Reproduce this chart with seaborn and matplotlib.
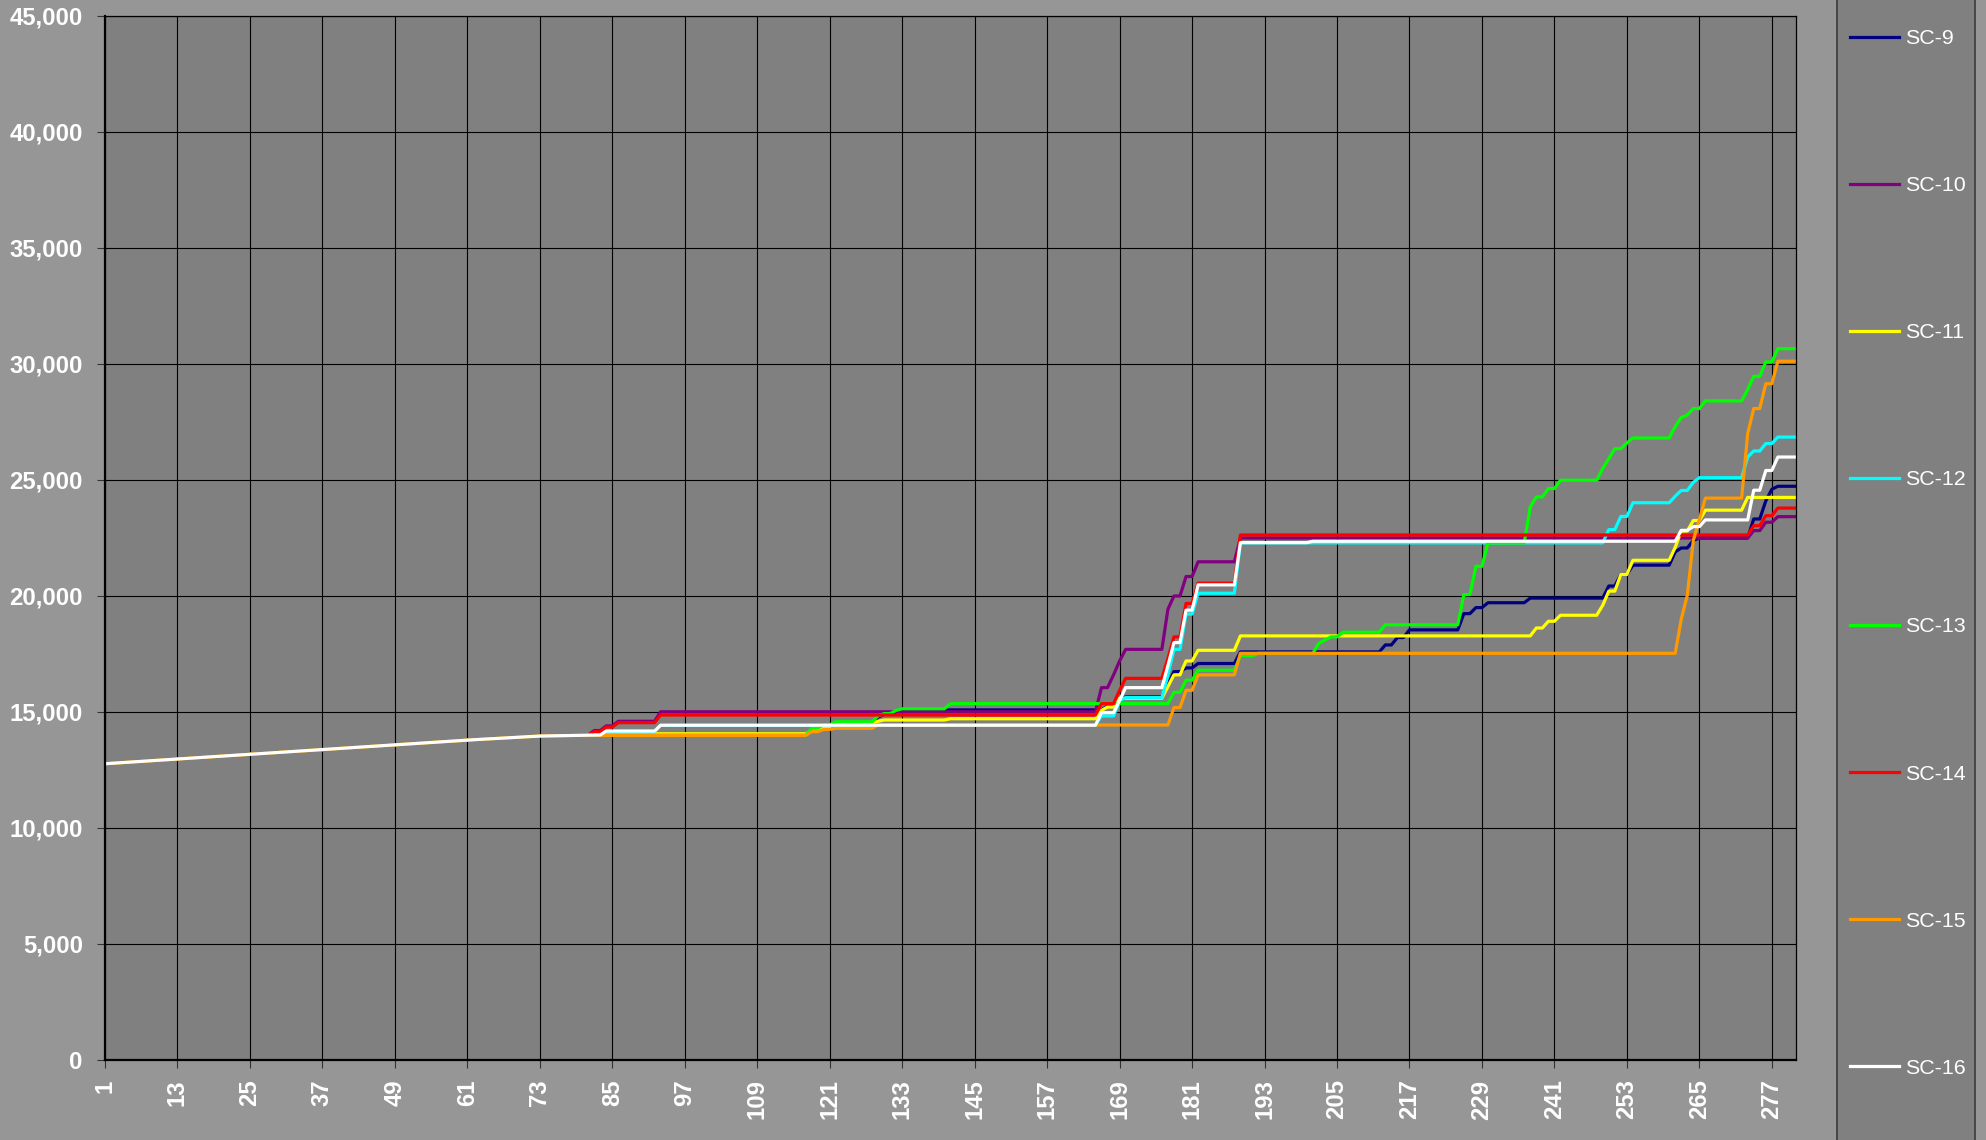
import numpy as np
import pandas as pd
import matplotlib
matplotlib.use("Agg")
import matplotlib.pyplot as plt
from matplotlib.patches import Rectangle
from matplotlib.lines import Line2D
from matplotlib.ticker import FuncFormatter
import seaborn as sns

# ---------------- data ----------------
n_points = 281

# shared opening stretch, x = 1 .. 83
base_ramp = [12770, 12787, 12804, 12821, 12838, 12855, 12872, 12889, 12906, 12923,
             12940, 12957, 12974, 12991, 13008, 13025, 13042, 13059, 13076, 13093,
             13110, 13127, 13144, 13161, 13178, 13195, 13212, 13229, 13246, 13263,
             13280, 13297, 13314, 13331, 13348, 13365, 13382, 13399, 13416, 13433,
             13450, 13467, 13484, 13501, 13518, 13535, 13552, 13569, 13586, 13603,
             13620, 13637, 13654, 13671, 13688, 13705, 13722, 13739, 13756, 13773,
             13790, 13804, 13819, 13833, 13848, 13862, 13876, 13891, 13905, 13920,
             13934, 13948, 13963, 13968, 13972, 13977, 13981, 13986, 13991, 13995,
             14000, 14004, 14008]

# after the shared stretch each series is a step series: (x where a new level starts, level)
sc9_x = [84, 118, 120, 122, 129, 130, 132, 133, 167, 169, 170, 177, 178, 180, 182, 189,
         213, 215, 217, 226, 228, 230, 237, 250, 252, 254, 261, 262, 264, 265, 274, 276,
         277, 278]
sc9_v = [14065, 14210, 14350, 14540, 14780, 14900, 15000, 15090, 15260, 15475, 15650,
         16200, 16740, 16900, 17090, 17590, 17890, 18210, 18540, 19240, 19500, 19710,
         19910, 20430, 20930, 21330, 21900, 22070, 22400, 22500, 23320, 24100, 24600,
         24730]

sc10_x = [82, 84, 86, 93, 166, 168, 169, 170, 177, 178, 180, 182, 189, 274, 276, 278]
sc10_v = [14200, 14400, 14600, 15010, 16050, 16600, 17200, 17700, 19430, 20000, 20840,
          21475, 22500, 22820, 23180, 23420]

sc11_x = [84, 118, 120, 122, 129, 130, 141, 166, 167, 169, 177, 178, 180, 182, 189, 238,
          240, 242, 249, 250, 252, 254, 261, 262, 264, 266, 273]
sc11_v = [14065, 14210, 14350, 14540, 14600, 14655, 14710, 15070, 15215, 15590, 16100,
          16600, 17200, 17660, 18280, 18620, 18910, 19170, 19600, 20210, 20930, 21540,
          22100, 22800, 23255, 23700, 24250]

sc12_x = [84, 93, 166, 169, 170, 177, 178, 180, 182, 189, 250, 252, 254, 261, 262, 264,
          265, 273, 274, 276, 278]
sc12_v = [14150, 14424, 14830, 15475, 15620, 16600, 17700, 19220, 20120, 22290, 22860,
          23430, 24020, 24300, 24550, 24900, 25100, 25990, 26250, 26570, 26850]

sc13_x = [83, 118, 120, 122, 129, 130, 132, 133, 141, 178, 180, 182, 189, 192, 202, 203,
          204, 206, 213, 226, 228, 230, 237, 238, 240, 242, 249, 250, 251, 253, 254, 261,
          262, 263, 264, 266, 273, 274, 276, 278]
sc13_v = [14000, 14300, 14450, 14580, 14830, 14930, 15070, 15140, 15360, 15850, 16370,
          16800, 17420, 17530, 17960, 18100, 18240, 18440, 18760, 20060, 21280, 22290,
          23840, 24270, 24630, 24990, 25500, 25920, 26350, 26600, 26810, 27300, 27690,
          27800, 28080, 28410, 28900, 29470, 30090, 30660]

sc14_x = [82, 84, 86, 93, 166, 169, 170, 177, 178, 180, 182, 189, 274, 276, 278]
sc14_v = [14150, 14350, 14540, 14870, 15360, 15935, 16450, 17300, 18240, 19680, 20555,
          22630, 23030, 23460, 23790]

sc15_x = [83, 118, 120, 122, 129, 178, 180, 182, 189, 262, 263, 264, 265, 266, 273, 274,
          276, 278]
sc15_v = [13990, 14150, 14250, 14300, 14440, 15190, 15935, 16600, 17530, 19000, 20030,
          22400, 23300, 24220, 27000, 28080, 29150, 30120]

sc16_x = [84, 93, 166, 169, 170, 177, 178, 180, 182, 189, 201, 262, 264, 266, 274, 276,
          278]
sc16_v = [14180, 14430, 14970, 15500, 16050, 17000, 17990, 19390, 20480, 22300, 22360,
          22830, 22990, 23280, 24560, 25410, 25990]

series_names = ["SC-9", "SC-10", "SC-11", "SC-12", "SC-13", "SC-14", "SC-15", "SC-16"]
series_steps = [(sc9_x, sc9_v), (sc10_x, sc10_v), (sc11_x, sc11_v), (sc12_x, sc12_v),
                (sc13_x, sc13_v), (sc14_x, sc14_v), (sc15_x, sc15_v), (sc16_x, sc16_v)]
series_colors = ["#000080", "#800080", "#FFFF00", "#00FFFF", "#00FF00", "#FF0000",
                 "#FF9900", "#FFFFFF"]

x_tick_values = [1, 13, 25, 37, 49, 61, 73, 85, 97, 109, 121, 133, 145, 157, 169, 181,
                 193, 205, 217, 229, 241, 253, 265, 277]
y_tick_values = [0, 5000, 10000, 15000, 20000, 25000, 30000, 35000, 40000, 45000]

# ---------------- build long table ----------------
frames = []
xs = np.arange(1, n_points + 1)
for name, (cx, cv) in zip(series_names, series_steps):
    s = pd.Series(np.nan, index=xs)
    first = cx[0]
    s.iloc[:first - 1] = base_ramp[:first - 1]
    s.loc[cx] = cv
    s = s.ffill()
    frames.append(pd.DataFrame({"x": xs, "value": s.values, "series": name}))
df = pd.concat(frames, ignore_index=True)

# ---------------- figure ----------------
plt.rcParams["font.family"] = ["Liberation Sans", "DejaVu Sans"]

W, H = 1986, 1140
fig = plt.figure(figsize=(W / 100, H / 100), dpi=100, facecolor="#969696")
ax_l, ax_r, ax_t, ax_b = 105, 1796, 16, 1060
ax = fig.add_axes([ax_l / W, 1 - ax_b / H, (ax_r - ax_l) / W, (ax_b - ax_t) / H])
ax.set_facecolor("#808080")

sns.lineplot(data=df, x="x", y="value", hue="series", hue_order=series_names,
             palette=dict(zip(series_names, series_colors)), linewidth=2.3,
             estimator=None, errorbar=None, legend=False, ax=ax)

ax.set_xlim(1, n_points)
ax.set_ylim(0, 45000)
ax.set_xticks(x_tick_values)
ax.set_xticklabels([str(v) for v in x_tick_values], rotation=90, fontweight="bold")
ax.set_yticks(y_tick_values)
ax.yaxis.set_major_formatter(FuncFormatter(lambda v, p: f"{v:,.0f}"))
ax.set_xlabel("")
ax.set_ylabel("")

ax.set_axisbelow(True)
ax.grid(True, color="#000000", linewidth=0.8)
ax.tick_params(axis="both", direction="out", length=6, width=0.8, color="#333333",
               labelcolor="white", labelsize=17.2)
ax.tick_params(axis="y", pad=10)
ax.tick_params(axis="x", pad=8)
for lab in ax.get_xticklabels() + ax.get_yticklabels():
    lab.set_fontweight("bold")

for side in ["top", "right"]:
    ax.spines[side].set_color("#000000")
    ax.spines[side].set_linewidth(0.9)
for side in ["left", "bottom"]:
    ax.spines[side].set_color("#000000")
    ax.spines[side].set_linewidth(1.6)

# legend panel
fig.patches.append(Rectangle((1837 / W, -0.02), (1975 - 1837) / W, 1.04,
                             transform=fig.transFigure, facecolor="#808080",
                             edgecolor="#3a3a3a", linewidth=1.2, zorder=0))
handles = [Line2D([], [], color=c, linewidth=2.3) for c in series_colors]
fig.legend(handles, series_names, loc="upper left",
           bbox_to_anchor=(1850 / W, 1 - 29 / H), frameon=False, borderpad=0,
           borderaxespad=0, handlelength=2.3, handletextpad=0.28, labelspacing=5.99,
           prop={"size": 15.4}, labelcolor="white")

fig.savefig("out.png", dpi=100, facecolor=fig.get_facecolor())
